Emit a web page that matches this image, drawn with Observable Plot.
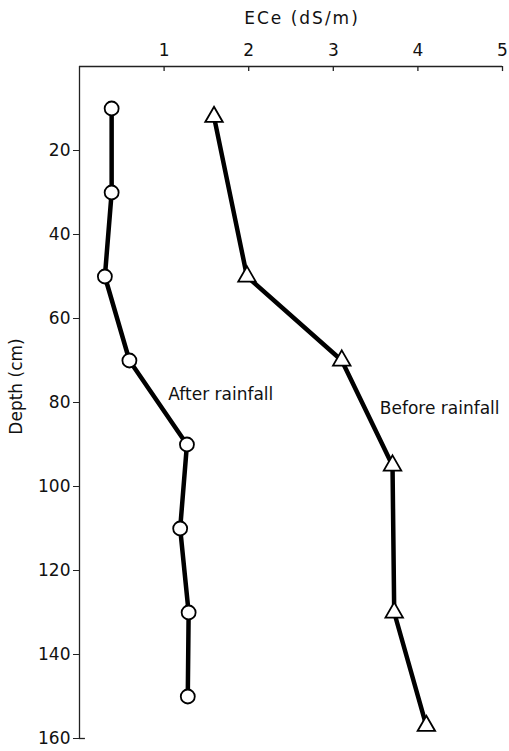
<!DOCTYPE html>
<html><head><meta charset="utf-8">
<script src="https://cdn.jsdelivr.net/npm/d3@7"></script>
<script src="https://cdn.jsdelivr.net/npm/@observablehq/plot@0.6"></script>
<style>html,body{margin:0;padding:0;background:#fff} svg{display:block}</style>
</head><body><div id="chart"></div>
<script>
// Data
const depthAfter = [10, 30, 50, 70, 90, 110, 130, 150];
const eceAfter = [0.38, 0.38, 0.30, 0.59, 1.27, 1.19, 1.29, 1.28];
const depthBefore = [12, 50, 70, 95, 130, 157];
const eceBefore = [1.59, 1.98, 3.10, 3.70, 3.72, 4.10];
const xTicks = [1, 2, 3, 4, 5];
const yTicks = [20, 40, 60, 80, 100, 120, 140, 160];
const seriesLabels = ["After rainfall", "Before rainfall"];
const xLabel = "ECe (dS/m)";
const yLabel = "Depth (cm)";

const after = depthAfter.map((d, i) => ({depth: d, ece: eceAfter[i]}));
const before = depthBefore.map((d, i) => ({depth: d, ece: eceBefore[i]}));

const chart = Plot.plot({
  width: 509,
  height: 751,
  marginLeft: 79,
  marginRight: 7,
  marginTop: 66,
  marginBottom: 13,
  style: {fontFamily: "'DejaVu Sans', sans-serif", fontSize: "17px", color: "#111", background: "#fff"},
  x: {domain: [0, 5]},
  y: {domain: [0, 160], reverse: true},
  marks: [
    Plot.ruleY([0], {stroke: "#222", strokeWidth: 1.3}),
    Plot.ruleX([0], {stroke: "#222", strokeWidth: 1.3}),
    Plot.ruleX(xTicks, {x: d => d, y1: 0, y2: 1.2, stroke: "#222", strokeWidth: 1.3}),
    Plot.ruleY([yTicks[yTicks.length - 1]], {y: d => d, x1: 0, x2: 0.07, stroke: "#222", strokeWidth: 1.3}),
    Plot.axisX({anchor: "top", ticks: xTicks, tickSize: 0, tickPadding: 11, label: null, fontSize: 17, tickFormat: d => d}),
    Plot.axisY({anchor: "left", ticks: yTicks, tickSize: 6, tickPadding: 3, label: null, fontSize: 17, stroke: "#222", tickFormat: d => d}),
    Plot.line(after, {x: "ece", y: "depth", stroke: "#000", strokeWidth: 4.5}),
    Plot.line(before, {x: "ece", y: "depth", stroke: "#000", strokeWidth: 4.5}),
    Plot.dot(after, {x: "ece", y: "depth", r: 7, fill: "#fff", stroke: "#000", strokeWidth: 1.8}),
    Plot.dot(before, {x: "ece", y: "depth", r: 6.5, symbol: "triangle", fill: "#fff", stroke: "#000", strokeWidth: 1.8}),
    Plot.text([seriesLabels[0]], {x: 1.05, y: 78, textAnchor: "start", fontSize: 17, fill: "#111"}),
    Plot.text([seriesLabels[1]], {x: 3.55, y: 81.4, textAnchor: "start", fontSize: 17, fill: "#111"}),
    Plot.text([xLabel], {frameAnchor: "top", textAnchor: "middle", lineAnchor: "middle", dx: 11, dy: -48, fontSize: 17, fill: "#111"}),
    Plot.text([yLabel], {frameAnchor: "left", textAnchor: "middle", lineAnchor: "middle", rotate: -90, dx: -63, dy: -16, fontSize: 17, fill: "#111"})
  ]
});
d3.select(chart).selectAll("text").filter(function() { return this.textContent === xLabel; })
  .attr("letter-spacing", "2px");
document.getElementById("chart").appendChild(chart);
</script>
</body></html>
